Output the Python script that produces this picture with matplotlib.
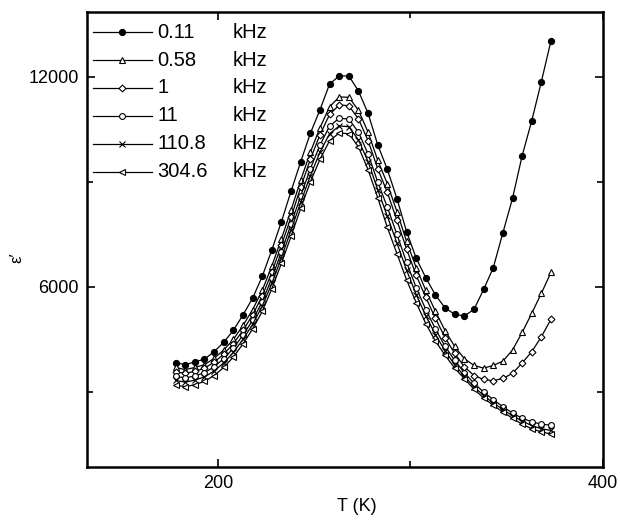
import numpy as np
import matplotlib
matplotlib.use('Agg')
from matplotlib import pyplot as plt
from matplotlib.ticker import FixedLocator

plt.rcParams['font.family'] = ['Liberation Sans', 'DejaVu Sans']

# temperature grid (K)
T = [178, 183, 188, 193, 198, 203, 208, 213, 218, 223,
     228, 233, 238, 243, 248, 253, 258, 263, 268, 273,
     278, 283, 288, 293, 298, 303, 308, 313, 318, 323,
     328, 333, 338, 343, 348, 353, 358, 363, 368, 373]

# epsilon' for each frequency
eps_011 = [3840, 3780, 3860, 3940, 4150, 4420, 4760, 5200, 5680, 6300,
           7060, 7870, 8740, 9580, 10390, 11060, 11800, 12030, 12030, 11600,
           10960, 10060, 9360, 8520, 7580, 6820, 6260, 5770, 5400, 5220,
           5170, 5360, 5930, 6550, 7550, 8530, 9750, 10750, 11870, 13040]
eps_058 = [3700, 3640, 3700, 3780, 3960, 4200, 4500, 4900, 5350, 5900,
           6600, 7380, 8200, 9050, 9850, 10550, 11150, 11430, 11420, 11050,
           10420, 9620, 8950, 8150, 7300, 6550, 5900, 5300, 4750, 4300,
           3950, 3760, 3680, 3760, 3880, 4200, 4700, 5250, 5820, 6420]
eps_1 = [3580, 3530, 3590, 3680, 3850, 4080, 4380, 4760, 5200, 5740,
         6420, 7200, 8000, 8850, 9650, 10350, 10930, 11200, 11180, 10800,
         10180, 9380, 8700, 7900, 7080, 6330, 5700, 5100, 4550, 4100,
         3720, 3470, 3360, 3320, 3390, 3530, 3830, 4150, 4580, 5080]
eps_11 = [3450, 3400, 3460, 3550, 3720, 3950, 4250, 4620, 5050, 5580,
          6250, 7000, 7800, 8600, 9380, 10050, 10600, 10820, 10800, 10420,
          9800, 9000, 8280, 7500, 6700, 5980, 5350, 4800, 4300, 3900,
          3550, 3250, 3000, 2780, 2580, 2400, 2250, 2150, 2080, 2050]
eps_1108 = [3330, 3280, 3340, 3430, 3600, 3830, 4130, 4500, 4930, 5450,
            6100, 6840, 7630, 8420, 9180, 9850, 10380, 10600, 10580, 10200,
            9580, 8780, 8020, 7250, 6480, 5780, 5170, 4640, 4170, 3780,
            3450, 3150, 2900, 2690, 2500, 2320, 2170, 2040, 1950, 1900]
eps_3046 = [3200, 3150, 3210, 3300, 3470, 3700, 4000, 4370, 4800, 5300,
            5950, 6680, 7450, 8250, 9000, 9650, 10180, 10400, 10380, 10000,
            9350, 8550, 7700, 6950, 6200, 5550, 4950, 4450, 4050, 3680,
            3380, 3080, 2830, 2620, 2430, 2250, 2080, 1950, 1860, 1800]

freqs = ['0.11', '0.58', '1', '11', '110.8', '304.6']
series = [eps_011, eps_058, eps_1, eps_11, eps_1108, eps_3046]
markers = ['o', '^', 'D', 'o', 'x', '<']
fills = ['black', 'white', 'white', 'white', 'none', 'white']
msizes = [4.4, 4.4, 3.5, 4.2, 4.4, 4.4]

fig = plt.figure(figsize=(6.2, 5.22), dpi=100)
ax = fig.add_axes([87/620, 1-467/522, 516/620, 455/522])

for eps, m, fc, ms in zip(series, markers, fills, msizes):
    ax.plot(T, eps, color='black', lw=0.9, marker=m, ms=ms,
            mfc=fc, mec='black', mew=0.8)

# legend drawn by hand (frequency column + kHz column)
for i, (f, m, fc, ms) in enumerate(zip(freqs, markers, fills, msizes)):
    yy = 0.956 - i*0.0615
    ax.plot([0.012, 0.126], [yy, yy], color='black', lw=0.9,
            transform=ax.transAxes, clip_on=False)
    ax.plot([0.068], [yy], color='black', marker=m, ms=ms, mfc=fc,
            mec='black', mew=0.8, transform=ax.transAxes, clip_on=False)
    ax.text(0.137, yy, f, fontsize=14.5, va='center', ha='left',
            transform=ax.transAxes)
    ax.text(0.283, yy, 'kHz', fontsize=14.5, va='center', ha='left',
            transform=ax.transAxes)

ax.set_xlim(132, 400)
ax.set_ylim(857, 13857)
ax.xaxis.set_major_locator(FixedLocator([200, 400]))
ax.xaxis.set_minor_locator(FixedLocator([300]))
ax.yaxis.set_major_locator(FixedLocator([6000, 12000]))
ax.yaxis.set_minor_locator(FixedLocator([3000, 9000]))
ax.tick_params(which='both', direction='in', top=True, right=True,
               labelsize=13, width=1.2)
ax.tick_params(which='major', length=6, pad=6)
ax.tick_params(which='minor', length=4)
for s in ax.spines.values():
    s.set_linewidth(1.8)

ax.set_xlabel('T (K)', fontsize=13)
ax.xaxis.set_label_coords(0.523, -0.068)
ax.set_ylabel('ε′', fontsize=12)
ax.yaxis.set_label_coords(-0.122, 0.46)

plt.savefig('out.png', dpi=100)
plt.close('all')
